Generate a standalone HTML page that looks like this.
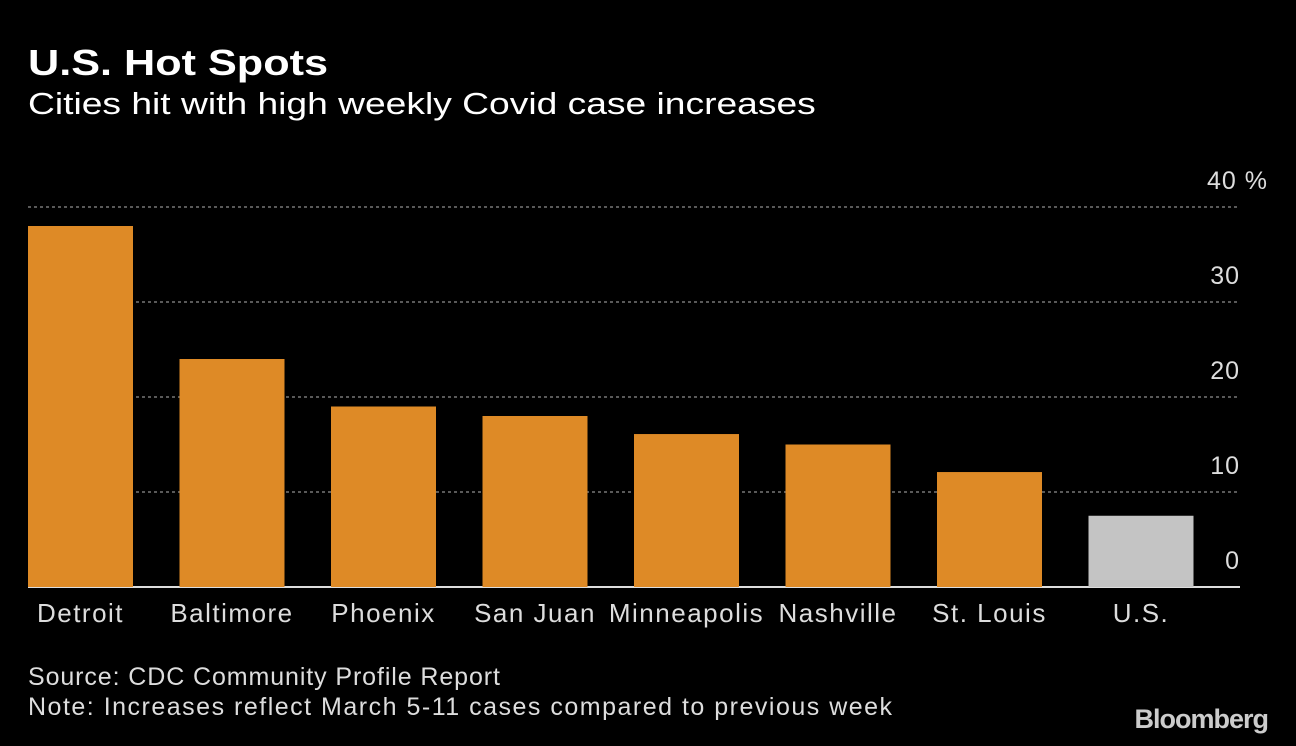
<!DOCTYPE html>
<html><head><meta charset="utf-8"><style>
body{margin:0;background:#000;width:1296px;height:746px;overflow:hidden;font-family:"Liberation Sans",sans-serif;color:#fff}
.t{position:absolute;white-space:nowrap;transform-origin:left top}
</style></head><body>
<div class="t" style="left:28px;top:42px;font-size:36px;font-weight:bold;transform:scaleX(1.2)">U.S. Hot Spots</div>
<div class="t" style="left:28px;top:86px;font-size:31px;transform:scaleX(1.2)">Cities hit with high weekly Covid case increases</div>
<svg width="1296" height="746" style="position:absolute;left:0;top:0">
<g id="grid"></g><g id="bars"></g><g id="labels"></g>
</svg>
<div class="t" style="left:28px;top:663px;font-size:25px;color:#ddd;letter-spacing:0.9px">Source: CDC Community Profile Report</div>
<div class="t" style="left:28px;top:693px;font-size:25px;color:#ddd;letter-spacing:1.5px">Note: Increases reflect March 5-11 cases compared to previous week</div>
<div class="t" style="right:28px;top:704px;font-size:27px;font-weight:bold;color:#ccc;letter-spacing:-1px">Bloomberg</div>
<script>
const categories=["Detroit","Baltimore","Phoenix","San Juan","Minneapolis","Nashville","St. Louis","U.S."];
const values=[38.0,24.0,19.0,18.0,16.1,15.0,12.1,7.5];
const ticks=[0,10,20,30,40];
const tickLabels=["0","10","20","30","40 %"];
const NS="http://www.w3.org/2000/svg";
const y0=587,ppu=9.5,x0=28,step=151.5,bw=105;
const y=v=>y0-v*ppu;
function mk(t,a,p){const e=document.createElementNS(NS,t);for(const k in a)e.setAttribute(k,a[k]);document.getElementById(p).appendChild(e);return e;}
ticks.forEach((t,i)=>{
 if(t>0){const l=mk("line",{x1:28,x2:1240,y1:y(t),y2:y(t),stroke:"#777","stroke-width":1.5,"stroke-dasharray":"3,3"},"grid");
 
 }
 const tx=mk("text",{x:1240,y:y(t)-18,"font-size":25,fill:"#ddd","text-anchor":"end","letter-spacing":"1px"},"labels");
 if(i==ticks.length-1)tx.setAttribute("x",1268);
 tx.textContent=tickLabels[i];
 
 
});
categories.forEach((c,i)=>{
 const x=x0+i*step;
 const r=mk("rect",{x:x,y:y(values[i]),width:bw,height:values[i]*ppu,fill:i==categories.length-1?"#c4c4c4":"#de8a26"},"bars");
 
 
 const t=mk("text",{x:x+bw/2,y:622,"font-size":26,fill:"#ddd","text-anchor":"middle","letter-spacing":"1.5px"},"labels");
 t.textContent=c;
 
 
});
const b=mk("line",{x1:28,x2:1240,y1:y0,y2:y0,stroke:"#ddd","stroke-width":2},"grid");


</script>
</body></html>
